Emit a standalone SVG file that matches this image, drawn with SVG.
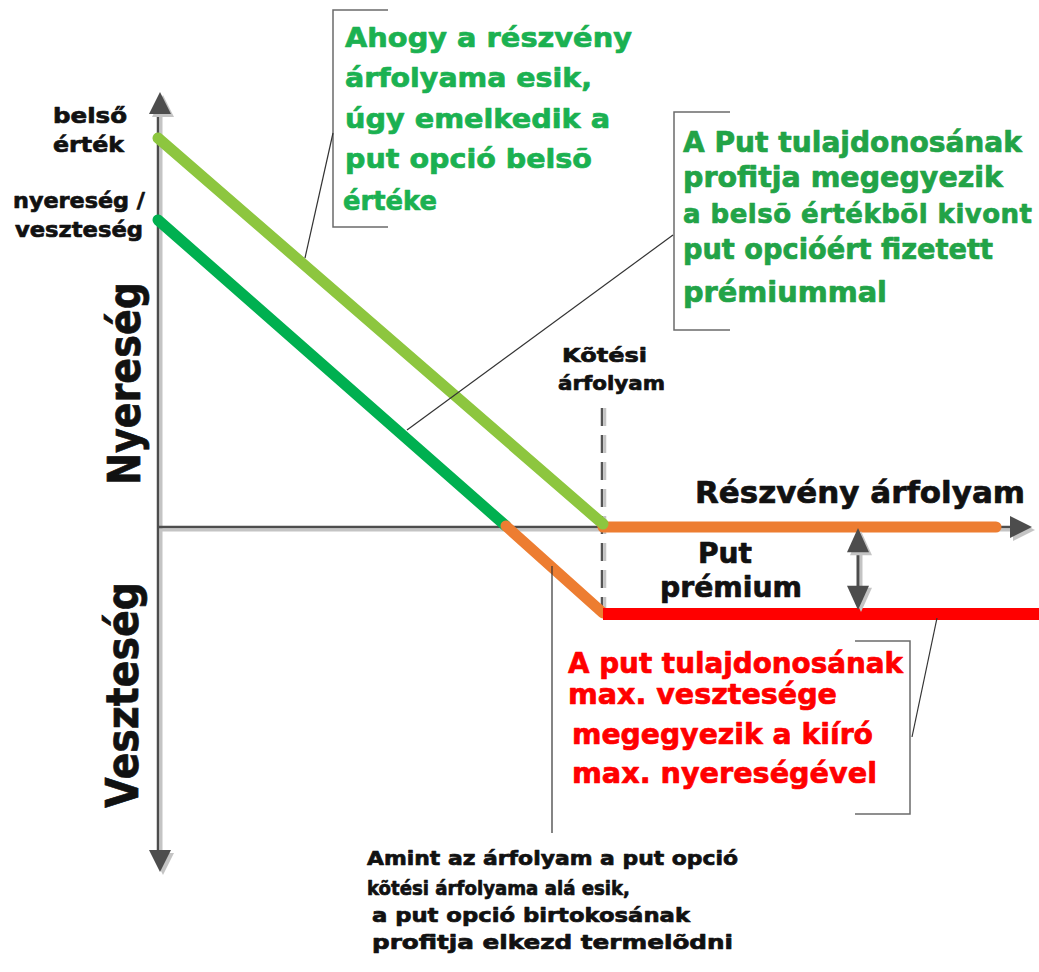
<svg xmlns="http://www.w3.org/2000/svg" width="1039" height="972" viewBox="0 0 1039 972">
  <defs>
    <style>
      text { font-family: "DejaVu Sans", "Liberation Sans", sans-serif; font-weight: bold; stroke-width: 0.7; stroke-linejoin: round; }
      .blk { fill: #111111; stroke: #111111; }
      .g1 { fill: #1bb151; stroke: #1bb151; }
      .g2 { fill: #22a347; stroke: #22a347; }
      .red { fill: #ff0000; stroke: #ff0000; }
      .axis { stroke: #4d4d4d; stroke-width: 2.5; fill: none; }
      .axis-sh { stroke: #c4c4c4; stroke-width: 3; fill: none; }
      .bracket { stroke: #6b6b6b; stroke-width: 1.5; fill: none; }
      .leader { stroke: #333333; stroke-width: 1.2; fill: none; }
      .curve { stroke-width: 11; fill: none; stroke-linecap: round; stroke-linejoin: round; }
    </style>
    <!-- arrowhead pointing up, tip at origin -->
    <path id="head" d="M0 0 L11 22 L-11 22 Z"/>
  </defs>

  <rect width="1039" height="972" fill="#ffffff"/>

  <!-- axes -->
  <g id="axes">
    <line class="axis-sh" x1="161" y1="112" x2="161" y2="856"/>
    <line class="axis-sh" x1="161" y1="530" x2="1012" y2="530"/>
    <line class="axis" x1="158" y1="110" x2="158" y2="854"/>
    <line class="axis" x1="158" y1="527" x2="1012" y2="527"/>
    <use href="#head" fill="#c4c4c4" transform="translate(163,95)"/>
    <use href="#head" fill="#4d4d4d" transform="translate(160,92)"/>
    <use href="#head" fill="#c4c4c4" transform="translate(163,875) rotate(180)"/>
    <use href="#head" fill="#4d4d4d" transform="translate(160,872) rotate(180)"/>
    <use href="#head" fill="#c4c4c4" transform="translate(1035,530) rotate(90)"/>
    <use href="#head" fill="#4d4d4d" transform="translate(1032,527) rotate(90)"/>
  </g>

  <!-- strike price marker -->
  <g id="strike">
    <line x1="605" y1="408" x2="605" y2="614" stroke="#c4c4c4" stroke-width="2.5" stroke-dasharray="18 9"/>
    <line x1="602" y1="408" x2="602" y2="614" stroke="#555555" stroke-width="2.5" stroke-dasharray="18 9"/>
    <text class="blk" x="562" y="362" font-size="20" textLength="85" lengthAdjust="spacingAndGlyphs">Kõtési</text>
    <text class="blk" x="558" y="390" font-size="20" textLength="107" lengthAdjust="spacingAndGlyphs">árfolyam</text>
  </g>

  <!-- payoff lines -->
  <g id="payoff">
    <line class="curve" stroke="#8dc63f" x1="158" y1="138" x2="603" y2="524"/>
    <line class="curve" stroke="#00b050" x1="158" y1="220" x2="506" y2="526"/>
    <polyline class="curve" stroke="#ed7d31" points="506,526 603,613"/>
    <line class="curve" stroke="#ed7d31" x1="603" y1="527" x2="996" y2="527"/>
    <line x1="603" y1="614" x2="1039" y2="614" stroke="#ff0000" stroke-width="12"/>
    <circle cx="603" cy="524" r="5.5" fill="#8dc63f"/>
  </g>

  <!-- premium span -->
  <g id="premium">
    <line x1="861" y1="545" x2="861" y2="597" stroke="#c4c4c4" stroke-width="3"/>
    <line x1="858" y1="545" x2="858" y2="595" stroke="#4d4d4d" stroke-width="3"/>
    <use href="#head" fill="#c4c4c4" transform="translate(861,531) scale(1,1.1)"/>
    <use href="#head" fill="#4d4d4d" transform="translate(858,528) scale(1,1.1)"/>
    <use href="#head" fill="#c4c4c4" transform="translate(861,612) rotate(180) scale(1,1.1)"/>
    <use href="#head" fill="#4d4d4d" transform="translate(858,610) rotate(180) scale(1,1.1)"/>
    <text class="blk" x="698" y="563" font-size="28" textLength="54" lengthAdjust="spacingAndGlyphs">Put</text>
    <text class="blk" x="660" y="597" font-size="28" textLength="142" lengthAdjust="spacingAndGlyphs">prémium</text>
  </g>

  <!-- axis labels -->
  <g id="axis-labels">
    <text class="blk" x="695" y="503" font-size="31" textLength="330" lengthAdjust="spacingAndGlyphs">Részvény árfolyam</text>
    <text class="blk" font-family="Liberation Sans" font-size="45" transform="translate(140,485) rotate(-90)" textLength="203" lengthAdjust="spacingAndGlyphs">Nyereség</text>
    <text class="blk" font-family="Liberation Sans" font-size="45" transform="translate(138,808) rotate(-90)" textLength="226" lengthAdjust="spacingAndGlyphs">Veszteség</text>
    <text class="blk" x="53" y="123" font-size="22" textLength="74" lengthAdjust="spacingAndGlyphs">belső</text>
    <text class="blk" x="53" y="152" font-size="22" textLength="71" lengthAdjust="spacingAndGlyphs">érték</text>
    <text class="blk" x="13" y="208" font-size="22" textLength="132" lengthAdjust="spacingAndGlyphs">nyereség /</text>
    <text class="blk" x="15" y="237" font-size="22" textLength="128" lengthAdjust="spacingAndGlyphs">veszteség</text>
  </g>

  <!-- intrinsic value note -->
  <g id="note-intrinsic">
    <polyline class="bracket" points="388,10 333,10 333,227 388,227"/>
    <line class="leader" x1="333" y1="133" x2="305" y2="258"/>
    <g class="g1" font-size="27">
      <text x="345" y="47" textLength="287" lengthAdjust="spacingAndGlyphs">Ahogy a részvény</text>
      <text x="345" y="87" textLength="247" lengthAdjust="spacingAndGlyphs">árfolyama esik,</text>
      <text x="345" y="128" textLength="265" lengthAdjust="spacingAndGlyphs">úgy emelkedik a</text>
      <text x="345" y="168" textLength="247" lengthAdjust="spacingAndGlyphs">put opció belsõ</text>
      <text x="343" y="210" textLength="94" lengthAdjust="spacingAndGlyphs">értéke</text>
    </g>
  </g>

  <!-- profit note -->
  <g id="note-profit">
    <polyline class="bracket" points="730,112 674,112 674,330 730,330"/>
    <line class="leader" x1="673" y1="235" x2="407" y2="430"/>
    <g class="g2" font-size="28">
      <text x="683" y="152" textLength="339" lengthAdjust="spacingAndGlyphs">A Put tulajdonosának</text>
      <text x="683" y="187" textLength="320" lengthAdjust="spacingAndGlyphs">profitja megegyezik</text>
      <text x="683" y="223" font-size="26" textLength="349" lengthAdjust="spacing">a belsõ értékbõl kivont</text>
      <text x="683" y="259" textLength="310" lengthAdjust="spacingAndGlyphs">put opcióért fizetett</text>
      <text x="683" y="302" textLength="204" lengthAdjust="spacingAndGlyphs">prémiummal</text>
    </g>
  </g>

  <!-- maximum loss note -->
  <g id="note-loss">
    <polyline class="bracket" points="855,641 910,641 910,814 855,814"/>
    <line class="leader" x1="912" y1="737" x2="937" y2="618"/>
    <g class="red" font-size="28">
      <text x="568" y="673" textLength="335" lengthAdjust="spacingAndGlyphs">A put tulajdonosának</text>
      <text x="568" y="704" textLength="269" lengthAdjust="spacingAndGlyphs">max. vesztesége</text>
      <text x="572" y="744" textLength="301" lengthAdjust="spacingAndGlyphs">megegyezik a kiíró</text>
      <text x="572" y="783" textLength="305" lengthAdjust="spacingAndGlyphs">max. nyereségével</text>
    </g>
  </g>

  <!-- break-even note -->
  <g id="note-breakeven">
    <line class="leader" stroke-width="2" x1="552" y1="566" x2="552" y2="833"/>
    <g class="blk" font-size="20">
      <text x="367" y="865" textLength="371" lengthAdjust="spacingAndGlyphs">Amint az árfolyam a put opció</text>
      <text x="367" y="895" textLength="263" lengthAdjust="spacingAndGlyphs">kõtési árfolyama alá esik,</text>
      <text x="372" y="922" textLength="318" lengthAdjust="spacingAndGlyphs">a put opció birtokosának</text>
      <text x="372" y="949" textLength="361" lengthAdjust="spacingAndGlyphs">profitja elkezd termelõdni</text>
    </g>
  </g>
</svg>
